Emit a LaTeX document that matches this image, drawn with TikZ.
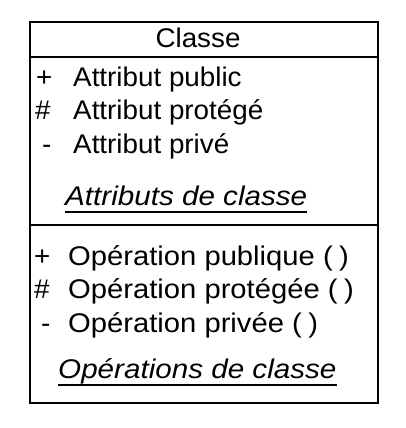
\documentclass[tikz,border=0pt]{standalone}
\usepackage{fontspec}
\setmainfont{Liberation Sans}
\newcommand{\emptyargs}{(\hspace{0.22em})}
\begin{document}
\begin{tikzpicture}[x=1pt,y=-1pt,
  txt/.style={anchor=base west,inner sep=0pt,font=\fontsize{27}{30}\selectfont,xscale=1.03},
  optxt/.style={txt,xscale=1.05},
  ital/.style={txt,font=\fontsize{27}{30}\selectfont\itshape,xscale=1.065},
  frame/.style={draw=black,line width=1.3pt}]
  \useasboundingbox (0,0) rectangle (406,428);
  \fill[white] (0,0) rectangle (406,428);
  % class box and compartments
  \draw[frame] (30,22) rectangle (378,403);
  \draw[frame] (30,57) -- (378,57);
  \draw[frame] (30,225) -- (378,225);
  % name
  \node[txt,anchor=base] (name) at (198,48) {Classe};
  % attributes
  \node[txt] (v1) at (36,86) {+};
  \node[txt] (a1) at (73,86) {Attribut public};
  \node[txt] (v2) at (35,119) {\#};
  \node[txt] (a2) at (73,119) {Attribut protégé};
  \node[txt] (v3) at (42,153) {-};
  \node[txt] (a3) at (73,153) {Attribut privé};
  \node[ital] (ac) at (65,205) {Attributs de classe};
  \draw[line width=1.2pt] ([yshift=-7pt]ac.base west) -- ([yshift=-7pt]ac.base east);
  % operations
  \node[txt] (w1) at (34,265) {+};
  \node[optxt] (o1) at (68,265) {Opération publique \emptyargs};
  \node[txt] (w2) at (34,298) {\#};
  \node[optxt] (o2) at (68,298) {Opération protégée \emptyargs};
  \node[txt] (w3) at (41,332) {-};
  \node[optxt] (o3) at (68,332) {Opération privée \emptyargs};
  \node[ital] (oc) at (58,378) {Opérations de classe};
  \draw[line width=1.2pt] ([yshift=-7pt]oc.base west) -- ([yshift=-7pt]oc.base east);
\end{tikzpicture}
\end{document}
